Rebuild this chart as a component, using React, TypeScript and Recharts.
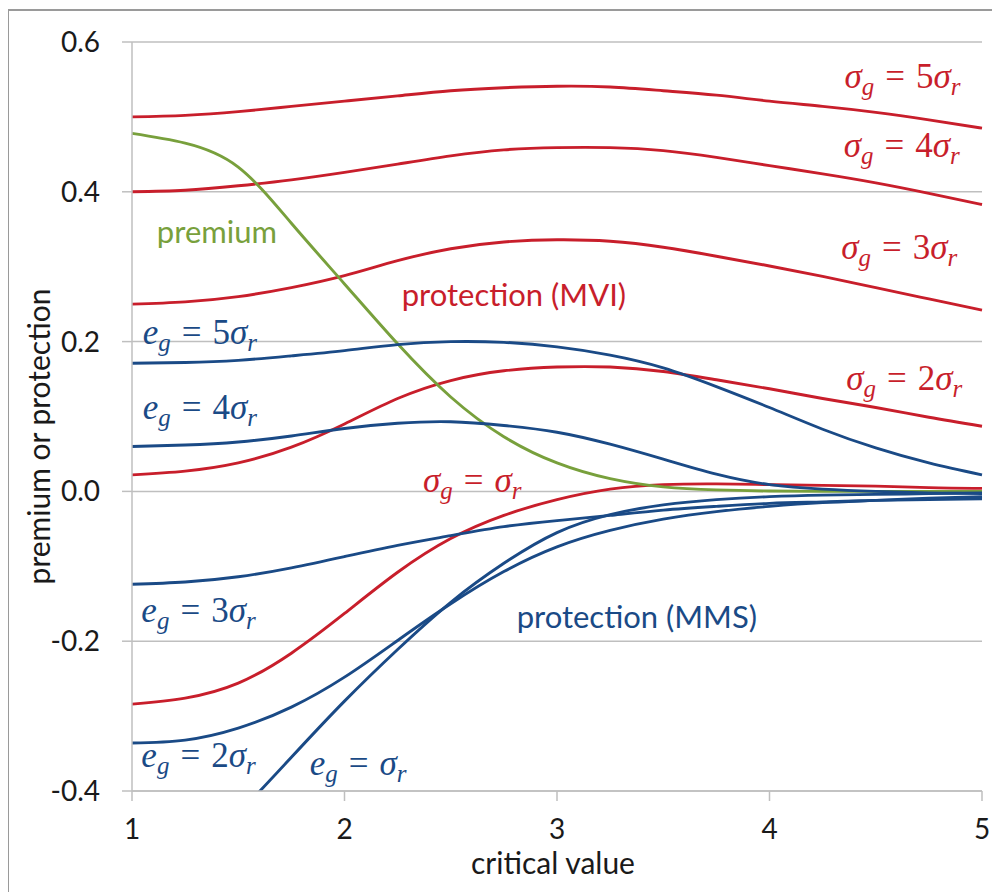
import React from 'react';
import { LineChart, Line, XAxis, YAxis, CartesianGrid, ReferenceDot } from 'recharts';

const criticalValues = [1, 1.25, 1.5, 1.75, 2, 2.25, 2.5, 2.75, 3, 3.25, 3.5, 3.75, 4, 4.25, 4.5, 4.75, 5];

const premium = [0.478, 0.465, 0.433, 0.358, 0.277, 0.197, 0.126, 0.073, 0.038, 0.017, 0.006, 0.002, 0.0005, 0, 0, 0, 0];

const mviSigma5 = [0.5, 0.502, 0.507, 0.514, 0.521, 0.528, 0.535, 0.539, 0.541, 0.54, 0.535, 0.529, 0.521, 0.514, 0.506, 0.496, 0.485];
const mviSigma4 = [0.4, 0.402, 0.408, 0.416, 0.426, 0.437, 0.448, 0.456, 0.459, 0.459, 0.455, 0.446, 0.435, 0.424, 0.412, 0.398, 0.383];
const mviSigma3 = [0.25, 0.253, 0.26, 0.272, 0.288, 0.308, 0.324, 0.333, 0.336, 0.334, 0.326, 0.314, 0.301, 0.287, 0.272, 0.257, 0.242];
const mviSigma2 = [0.022, 0.027, 0.038, 0.059, 0.09, 0.124, 0.148, 0.161, 0.166, 0.166, 0.16, 0.149, 0.137, 0.124, 0.112, 0.099, 0.087];
const mviSigma1 = [-0.284, -0.276, -0.256, -0.216, -0.163, -0.108, -0.063, -0.032, -0.011, 0.003, 0.009, 0.01, 0.009, 0.008, 0.007, 0.005, 0.004];

const mmsE5 = [0.171, 0.172, 0.175, 0.181, 0.188, 0.196, 0.2, 0.199, 0.193, 0.182, 0.165, 0.14, 0.112, 0.083, 0.058, 0.038, 0.022];
const mmsE4 = [0.06, 0.062, 0.066, 0.074, 0.084, 0.091, 0.093, 0.088, 0.079, 0.063, 0.043, 0.023, 0.009, 0.003, 0.0, -0.002, -0.003];
const mmsE3 = [-0.124, -0.121, -0.114, -0.102, -0.087, -0.072, -0.059, -0.047, -0.039, -0.032, -0.025, -0.02, -0.016, -0.014, -0.012, -0.011, -0.01];
const mmsE2 = [-0.336, -0.332, -0.316, -0.288, -0.248, -0.199, -0.15, -0.107, -0.074, -0.052, -0.037, -0.027, -0.02, -0.015, -0.012, -0.009, -0.007];
const mmsE1 = [-0.52, -0.49, -0.43, -0.355, -0.28, -0.211, -0.148, -0.096, -0.055, -0.031, -0.018, -0.011, -0.007, -0.005, -0.004, -0.003, -0.002];

const xTicks = [1, 2, 3, 4, 5];
const yTicks = [-0.4, -0.2, 0, 0.2, 0.4, 0.6];

const RED = '#C81E2B';
const BLUE = '#1A4A86';
const GREEN = '#78A03C';
const GRID = '#BFBFBF';
const TEXT = '#1a1a1a';
const SANS = 'Lato, "Open Sans", sans-serif';
const SERIF = '"Liberation Serif", "Times New Roman", serif';

const data = criticalValues.map((c, i) => ({
  c,
  premium: premium[i],
  s5: mviSigma5[i],
  s4: mviSigma4[i],
  s3: mviSigma3[i],
  s2: mviSigma2[i],
  s1: mviSigma1[i],
  e5: mmsE5[i],
  e4: mmsE4[i],
  e3: mmsE3[i],
  e2: mmsE2[i],
  e1: mmsE1[i],
}));

// label anchors (left edge, baseline) in data coordinates
const mathLabels = [
  { c: 4.353, v: 0.539, base: 'σ', sub: 'g', coef: '5', color: RED },
  { c: 4.349, v: 0.446, base: 'σ', sub: 'g', coef: '4', color: RED },
  { c: 4.338, v: 0.31, base: 'σ', sub: 'g', coef: '3', color: RED },
  { c: 4.361, v: 0.135, base: 'σ', sub: 'g', coef: '2', color: RED },
  { c: 2.369, v: -0.001, base: 'σ', sub: 'g', coef: '', color: RED },
  { c: 1.05, v: 0.197, base: 'e', sub: 'g', coef: '5', color: BLUE },
  { c: 1.05, v: 0.097, base: 'e', sub: 'g', coef: '4', color: BLUE },
  { c: 1.044, v: -0.174, base: 'e', sub: 'g', coef: '3', color: BLUE },
  { c: 1.044, v: -0.368, base: 'e', sub: 'g', coef: '2', color: BLUE },
  { c: 1.836, v: -0.379, base: 'e', sub: 'g', coef: '', color: BLUE },
];

const textLabels = [
  { c: 1.117, v: 0.331, text: 'premium', color: GREEN },
  { c: 2.269, v: 0.247, text: 'protection (MVI)', color: RED },
  { c: 2.81, v: -0.183, text: 'protection (MMS)', color: BLUE },
];

function getXY(props: any) {
  const vb = props && props.viewBox ? props.viewBox : props;
  return { x: vb.x ?? 0, y: vb.y ?? 0 };
}

function MathLabel(props: any) {
  const { x, y } = getXY(props);
  const { base, sub, coef, color } = props;
  const fs = 35;
  const sfs = 25;
  const drop = 7;
  return (
    <text x={x} y={y} fill={color} fontFamily={SERIF} fontSize={fs}>
      <tspan fontStyle="italic">{base}</tspan>
      <tspan fontStyle="italic" fontSize={sfs} dy={drop}>{sub}</tspan>
      <tspan dy={-drop} dx={11}>=</tspan>
      {coef ? <tspan dx={11}>{coef}</tspan> : null}
      <tspan fontStyle="italic" dx={coef ? 0 : 11}>σ</tspan>
      <tspan fontStyle="italic" fontSize={sfs} dy={drop}>r</tspan>
    </text>
  );
}

function PlainLabel(props: any) {
  const { x, y } = getXY(props);
  return (
    <text x={x} y={y} fill={props.color} fontFamily={SANS} fontSize={31}>
      {props.text}
    </text>
  );
}

function YTitle(props: any) {
  const vb = props.viewBox || { x: 0, y: 0, width: 0, height: 0 };
  const cx = vb.x + 30;
  const cy = vb.y + vb.height / 2 + 20;
  return (
    <text
      x={cx}
      y={cy}
      transform={`rotate(-90 ${cx} ${cy})`}
      textAnchor="middle"
      dominantBaseline="central"
      fill={TEXT}
      fontFamily={SANS}
      fontSize={30}
    >
      premium or protection
    </text>
  );
}

function XTitle(props: any) {
  const vb = props.viewBox || { x: 0, y: 0, width: 0, height: 0 };
  const cx = vb.x + vb.width / 2 - 4;
  const cy = vb.y + 71;
  return (
    <text x={cx} y={cy} textAnchor="middle" dominantBaseline="central" fill={TEXT} fontFamily={SANS} fontSize={30}>
      critical value
    </text>
  );
}

export default function App() {
  const lineProps = { type: 'natural' as const, dot: false, isAnimationActive: false, strokeWidth: 2.9 };
  return (
    <div style={{ position: 'relative', left: -1, width: 993, height: 884, overflow: 'hidden', background: '#fff' }}>
      <div
        style={{
          position: 'absolute',
          left: 0,
          top: 1,
          width: 1300,
          height: 1300,
          border: '2px solid #9a9a9a',
          boxSizing: 'border-box',
        }}
      />
      <div style={{ position: 'absolute', left: 1, top: 0 }}>
        <LineChart width={992} height={884} data={data} margin={{ top: 34, right: 18, left: 0, bottom: 0 }}>
          <CartesianGrid horizontal vertical={false} stroke={GRID} strokeWidth={1.5} />
          <XAxis
            dataKey="c"
            type="number"
            domain={[1, 5]}
            ticks={xTicks}
            height={101}
            tickSize={10}
            tickMargin={18}
            stroke={GRID}
            strokeWidth={1.5}
            tick={{ fill: TEXT, fontFamily: SANS, fontSize: 28 }}
            label={{ content: (p: any) => <XTitle {...p} /> }}
          />
          <YAxis
            type="number"
            domain={[-0.4, 0.6]}
            ticks={yTicks}
            allowDataOverflow
            width={124}
            tickSize={10}
            tickMargin={22}
            stroke={GRID}
            strokeWidth={1.5}
            tickFormatter={(v: number) => v.toFixed(1)}
            tick={{ fill: TEXT, fontFamily: SANS, fontSize: 28 }}
            label={{ content: (p: any) => <YTitle {...p} /> }}
          />
          <Line dataKey="s5" stroke={RED} {...lineProps} />
          <Line dataKey="s4" stroke={RED} {...lineProps} />
          <Line dataKey="s3" stroke={RED} {...lineProps} />
          <Line dataKey="s2" stroke={RED} {...lineProps} />
          <Line dataKey="s1" stroke={RED} {...lineProps} />
          <Line dataKey="premium" stroke={GREEN} {...lineProps} />
          <Line dataKey="e5" stroke={BLUE} {...lineProps} />
          <Line dataKey="e4" stroke={BLUE} {...lineProps} />
          <Line dataKey="e3" stroke={BLUE} {...lineProps} />
          <Line dataKey="e2" stroke={BLUE} {...lineProps} />
          <Line dataKey="e1" stroke={BLUE} {...lineProps} />
          {textLabels.map((l, i) => (
            <ReferenceDot
              key={'t' + i}
              x={l.c}
              y={l.v}
              r={0}
              fill="none"
              stroke="none"
              label={{ content: (p: any) => <PlainLabel {...p} text={l.text} color={l.color} /> }}
            />
          ))}
          {mathLabels.map((l, i) => (
            <ReferenceDot
              key={'m' + i}
              x={l.c}
              y={l.v}
              r={0}
              fill="none"
              stroke="none"
              label={{
                content: (p: any) => <MathLabel {...p} base={l.base} sub={l.sub} coef={l.coef} color={l.color} />,
              }}
            />
          ))}
        </LineChart>
      </div>
    </div>
  );
}
